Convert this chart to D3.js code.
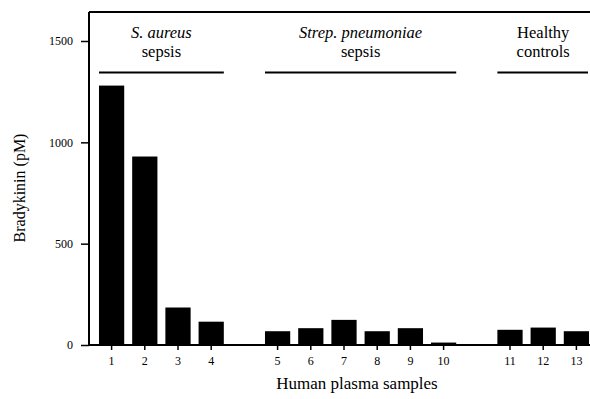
<!DOCTYPE html>
<html>
<head>
<meta charset="utf-8">
<script src="https://cdn.jsdelivr.net/npm/d3@7"></script>
<style>
  html, body { margin: 0; padding: 0; background: #fff; }
  svg { display: block; color: #000; }
  svg text { font-family: "Liberation Serif", "Times New Roman", Times, serif !important; fill: #000; }
</style>
</head>
<body>
<svg id="chart" width="590" height="399"></svg>
<script>
// sample numbers and bradykinin values (pM)
const samples = ["1", "2", "3", "4", "5", "6", "7", "8", "9", "10", "11", "12", "13"];
const bradykinin = [1280, 930, 185, 115, 68, 83, 124, 68, 83, 12, 75, 86, 68];

// slots along the x axis, with an empty slot between groups
const slots = ["1", "2", "3", "4", "gap1", "5", "6", "7", "8", "9", "10", "gap2", "11", "12", "13"];

// groups shown above the bars
const groupNames = [["S. aureus", "sepsis"], ["Strep. pneumoniae", "sepsis"], ["Healthy", "controls"]];
const groupItalic = [true, true, false];
const groupFirst = ["1", "5", "11"];
const groupLast = ["4", "10", "13"];

const yTicks = [0, 500, 1000, 1500];

const svg = d3.select("#chart");
const plotLeft = 89, plotTop = 12, plotBottom = 345, plotRight = 590;

const x = d3.scaleBand().domain(slots).range([95, 593]).paddingInner(0.24).paddingOuter(0.12);
const y = d3.scaleLinear().domain([0, 1500]).range([plotBottom, 41]);

// top frame line
svg.append("line")
  .attr("x1", plotLeft).attr("x2", plotRight)
  .attr("y1", plotTop).attr("y2", plotTop)
  .attr("stroke", "#000").attr("stroke-width", 2);

// bars
svg.append("g").selectAll("rect")
  .data(samples)
  .join("rect")
  .attr("x", d => x(d))
  .attr("width", x.bandwidth())
  .attr("y", (d, i) => y(bradykinin[i]))
  .attr("height", (d, i) => y(0) - y(bradykinin[i]))
  .attr("fill", "#000");

// y axis
const yAxis = svg.append("g")
  .attr("transform", `translate(${plotLeft},0)`)
  .call(d3.axisLeft(y).tickValues(yTicks).tickFormat(d3.format("d"))
    .tickSize(8).tickPadding(8).tickSizeOuter(0));
yAxis.select(".domain").remove();
yAxis.append("line")
  .attr("x1", 0).attr("x2", 0).attr("y1", plotTop).attr("y2", plotBottom)
  .attr("stroke", "#000").attr("stroke-width", 2);
yAxis.selectAll(".tick line").attr("stroke-width", 1.5);
yAxis.selectAll("text").attr("font-size", 12);

// x axis
const xAxis = svg.append("g")
  .attr("transform", `translate(0,${plotBottom})`)
  .call(d3.axisBottom(x).tickValues(samples).tickSize(5).tickPadding(6).tickSizeOuter(0));
xAxis.select(".domain").remove();
xAxis.append("line")
  .attr("x1", plotLeft).attr("x2", plotRight).attr("y1", 0).attr("y2", 0)
  .attr("stroke", "#000").attr("stroke-width", 2);
xAxis.selectAll(".tick line").attr("stroke-width", 1.5);
xAxis.selectAll("text").attr("font-size", 12);

// axis titles
svg.append("text")
  .attr("transform", "translate(25,188) rotate(-90)")
  .attr("text-anchor", "middle")
  .attr("font-size", 16)
  .text("Bradykinin (pM)");

svg.append("text")
  .attr("x", 357).attr("y", 389)
  .attr("text-anchor", "middle")
  .attr("font-size", 17)
  .text("Human plasma samples");

// group labels and lines
groupNames.forEach((lines, i) => {
  const x1 = x(groupFirst[i]);
  const x2 = Math.min(x(groupLast[i]) + x.bandwidth(), plotRight - 2);
  const cx = (x(groupFirst[i]) + x(groupLast[i]) + x.bandwidth()) / 2;
  const g = svg.append("g");
  g.append("text")
    .attr("x", cx).attr("y", 38)
    .attr("text-anchor", "middle")
    .attr("font-size", 16.5)
    .attr("font-style", groupItalic[i] ? "italic" : "normal")
    .text(lines[0]);
  g.append("text")
    .attr("x", cx).attr("y", 57)
    .attr("text-anchor", "middle")
    .attr("font-size", 16.5)
    .text(lines[1]);
  g.append("line")
    .attr("x1", x1).attr("x2", x2)
    .attr("y1", 72.5).attr("y2", 72.5)
    .attr("stroke", "#000").attr("stroke-width", 2);
});
</script>
</body>
</html>
